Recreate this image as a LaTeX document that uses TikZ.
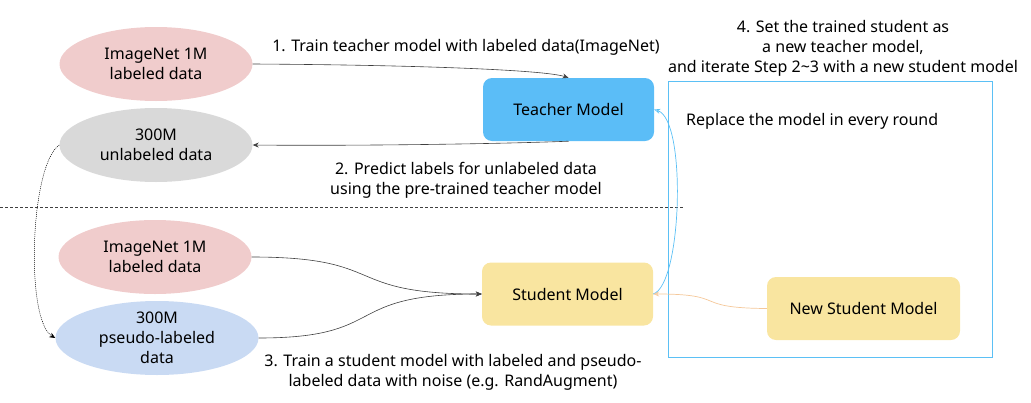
\documentclass[tikz,border=0pt]{standalone}
\usepackage{fontspec}
\setmainfont{Noto Sans}
\usetikzlibrary{shapes.geometric,arrows.meta}
\definecolor{pinkfill}{HTML}{F0CCCC}
\definecolor{greyfill}{HTML}{D9D9D9}
\definecolor{bluefill}{HTML}{C9DAF3}
\definecolor{teacherfill}{HTML}{5BBDF7}
\definecolor{studentfill}{HTML}{F9E5A0}
\definecolor{frameblue}{HTML}{5BC0F5}
\definecolor{orangeline}{HTML}{F5C89A}
\definecolor{arrowgrey}{HTML}{404040}
\begin{document}
\begin{tikzpicture}[x=1pt,y=-1pt,
  txt/.style={font=\fontsize{16}{20}\selectfont, align=center, inner sep=0pt},
  dataell/.style={ellipse, minimum width=193pt, minimum height=74pt, inner sep=0pt, draw=none, txt},
  modelbox/.style={rounded corners=9pt, minimum width=171pt, minimum height=63pt, inner sep=0pt, draw=none, txt},
  conn/.style={draw=arrowgrey, line width=0.6pt, -{Stealth[length=6pt,width=5pt]}},
]
\useasboundingbox (0,0) rectangle (1031,402);
% frame
\node[draw=frameblue, line width=0.8pt, minimum width=324pt, minimum height=276pt, inner sep=0pt] (frame) at (830,219) {};
% ellipses
\node[dataell, fill=pinkfill] (e1) at (156,64) {ImageNet 1M\\labeled data};
\node[dataell, fill=greyfill] (e2) at (156,145) {300M\\unlabeled data};
\node[dataell, fill=pinkfill] (e3) at (155,257) {ImageNet 1M\\labeled data};
\node[dataell, fill=bluefill, minimum width=203pt] (e4) at (157,338) {300M\\pseudo-labeled\\data};
% models
\node[modelbox, fill=teacherfill] (teacher) at (568.5,109.5) {Teacher Model};
\node[modelbox, fill=studentfill] (student) at (567.5,294) {Student Model};
\node[modelbox, fill=studentfill, minimum width=193pt] (newstudent) at (863.5,308.5) {New Student Model};
% dashed separator
\coordinate (sepL) at (0,207);
\coordinate (sepR) at (683,207);
\draw[draw=arrowgrey, line width=0.6pt, dash pattern=on 3pt off 2pt] (sepL) -- (sepR);
% labels
\node[txt] (l1) at (466,47) {1. Train teacher model with labeled data(ImageNet)};
\node[txt] (l2) at (466,180) {2. Predict labels for unlabeled data\\using the pre-trained teacher model};
\node[txt] (l3) at (453,372) {3. Train a student model with labeled and pseudo-\\labeled data with noise (e.g. RandAugment)};
\node[txt] (l4) at (843,48) {4. Set the trained student as\\a new teacher model,\\and iterate Step 2\textasciitilde 3 with a new student model};
\node[txt, anchor=west] (l5) at (686,121) {Replace the model in every round};
% connectors
\draw[conn] (e1.east) .. controls (420,65) and (545,70) .. (teacher.north);
\draw[conn] (teacher.south) .. controls (500,144) and (350,146) .. (e2.east);
\draw[draw=black, line width=0.5pt, dash pattern=on 1pt off 1pt, -{Stealth[length=6pt,width=5pt]}] (e2.west) .. controls (30,165) and (25,320) .. (e4.west);
\draw[conn] (e3.east) .. controls (390,257) and (340,294) .. (student.west);
\draw[conn] (e4.east) .. controls (390,338) and (340,294) .. (student.west);
\draw[draw=frameblue, line width=0.7pt, -{Stealth[length=6pt,width=5pt,open]}] (student.east) .. controls (682,285) and (687,120) .. (teacher.east);
\draw[draw=orangeline, line width=0.7pt, -{Stealth[length=6pt,width=5pt,open]}] (newstudent.west) .. controls (690,308) and (730,294) .. (student.east);
\end{tikzpicture}
\end{document}
